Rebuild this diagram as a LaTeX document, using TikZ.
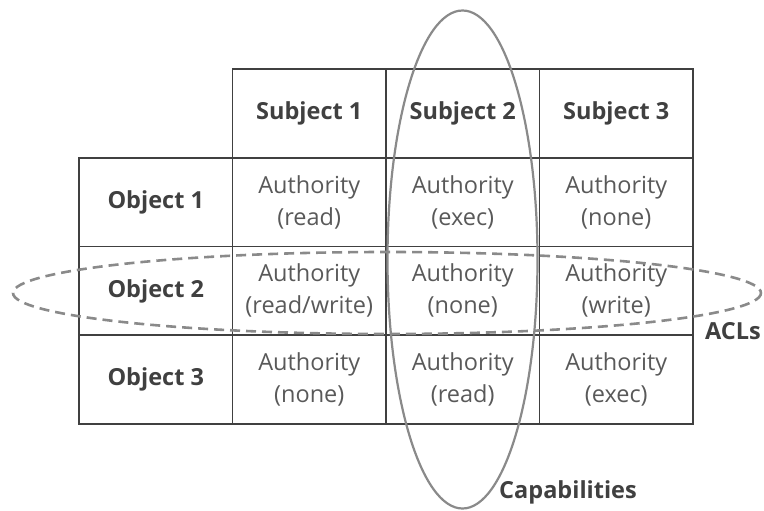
\documentclass[tikz,border=0pt]{standalone}
\usepackage{fontspec}
\setmainfont{Open Sans}
\definecolor{gridline}{HTML}{404040}
\definecolor{headtext}{HTML}{404040}
\definecolor{authtext}{HTML}{595959}
\definecolor{ringline}{HTML}{8A8A8A}
\begin{document}
\begin{tikzpicture}
  [x=1pt,y=-1pt,
   cell/.style={draw=gridline,line width=1.8pt,minimum width=153.5pt,minimum height=88.75pt,
     inner sep=0pt,align=center,text=authtext,font=\fontsize{23.5}{32}\selectfont},
   head/.style={cell,text=headtext,font=\fontsize{23.5}{32}\selectfont\bfseries},
   tag/.style={inner sep=0pt,text=headtext,font=\fontsize{23.5}{28}\selectfont\bfseries},
   ring/.style={draw=ringline,line width=2.2pt}]
\useasboundingbox (0,0) rectangle (764,511);
% headers
\node (s1)[head] at (309.25,113.4) {Subject 1};
  \node (s2)[head] at (462.75,113.4) {Subject 2};
  \node (s3)[head] at (616.25,113.4) {Subject 3};
  \node (o1)[head] at (155.75,202.1) {Object 1};
  \node (o2)[head] at (155.75,290.9) {Object 2};
  \node (o3)[head] at (155.75,379.6) {Object 3};
% authority cells
 \foreach \name/\x/\y/\right in {a11/309.25/202.1/read,a12/462.75/202.1/exec,a13/616.25/202.1/none,
   a21/309.25/290.9/read\slash write,a22/462.75/290.9/none,a23/616.25/290.9/write,
   a31/309.25/379.6/none,a32/462.75/379.6/read,a33/616.25/379.6/exec}
    \node (\name)[cell] at (\x,\y) {Authority\\(\right)};
% the two groupings
\draw[ring] (462.5,259.5) ellipse [x radius=75,y radius=249];
\draw[ring,line width=2.6pt,dash pattern=on 10pt off 6pt] (387,293) ellipse [x radius=374,y radius=41];
\node (acl)[tag] at (733,331) {ACLs};
\node (cap)[tag] at (568,492) {Capabilities};

\end{tikzpicture}
\end{document}
